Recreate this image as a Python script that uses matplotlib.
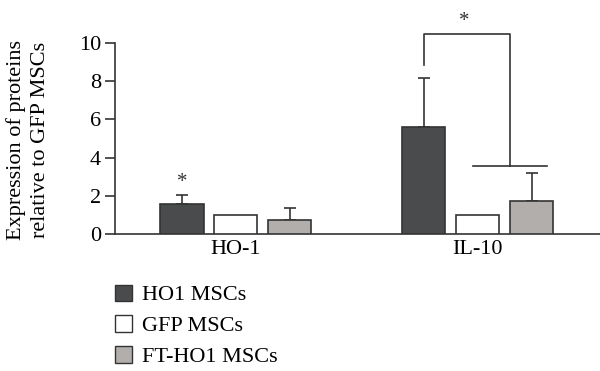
import matplotlib
matplotlib.use("Agg")
import matplotlib.pyplot as plt
from matplotlib.patches import Patch
import numpy as np

categories = ["HO-1", "IL-10"]
series = ["HO1 MSCs", "GFP MSCs", "FT-HO1 MSCs"]
means = {
    "HO1 MSCs": [1.55, 5.6],
    "GFP MSCs": [1.0, 1.0],
    "FT-HO1 MSCs": [0.75, 1.75],
}
errors = {
    "HO1 MSCs": [0.47, 2.58],
    "GFP MSCs": [0.0, 0.0],
    "FT-HO1 MSCs": [0.63, 1.45],
}
colors = ["#4a4b4d", "#ffffff", "#b1aeac"]
yticks = [0, 2, 4, 6, 8, 10]

plt.rcParams['font.family'] = ['Liberation Serif', 'DejaVu Serif']
edge = "#333333"
fs = 16

fig = plt.figure(figsize=(6, 3.71), dpi=100)
ax = fig.add_axes([0.1917, 0.3693, 0.8083, 0.5148])

x = np.arange(len(categories))
offset = 0.223
width = 0.178
handles = []
for i, s in enumerate(series):
    xs = x + (i - 1) * offset
    ax.bar(xs, means[s], width, color=colors[i], edgecolor=edge, linewidth=1.2, zorder=3)
    errs = np.array(errors[s])
    mask = errs > 0
    if mask.any():
        ax.errorbar(xs[mask], np.array(means[s])[mask],
                    yerr=[np.zeros(mask.sum()), errs[mask]],
                    fmt='none', ecolor=edge, elinewidth=1.2, capsize=4, capthick=1.2, zorder=2)
    handles.append(Patch(facecolor=colors[i], edgecolor=edge, linewidth=1.0, label=s))

ax.set_xlim(-0.5, 1.505)
ax.set_ylim(0, 10)
ax.set_yticks(yticks)
ax.set_xticks(x)
ax.set_xticklabels(categories, fontsize=fs)
ax.tick_params(axis='x', length=0, pad=4)
ax.tick_params(axis='y', length=7, width=1.2, color=edge, labelsize=fs, pad=3)
for sp in ["top", "right"]:
    ax.spines[sp].set_visible(False)
for sp in ["left", "bottom"]:
    ax.spines[sp].set_color(edge)
    ax.spines[sp].set_linewidth(1.2)

ax.set_ylabel("Expression of proteins\nrelative to GFP MSCs", fontsize=fs, linespacing=1.35,
              va='center', ha='center')
ax.yaxis.set_label_coords(-0.179, 0.49)

# significance markers
ax.text(x[0] - offset, means["HO1 MSCs"][0] + errors["HO1 MSCs"][0] + 0.2, "*",
        ha='center', va='bottom', fontsize=15, color=edge)
xl = x[1] - offset
xr = x[1] + 0.132
ax.plot([xl, xl, xr, xr], [8.85, 10.45, 10.45, 3.56], color=edge, lw=1.2, clip_on=False)
ax.plot([x[1] - 0.022, x[1] + 0.284], [3.56, 3.56], color=edge, lw=1.2, clip_on=False)
ax.text((xl + xr) / 2 - 0.01, 10.65, "*", ha='center', va='bottom', fontsize=15, color=edge, clip_on=False)

fig.legend(handles=handles, loc='upper left', bbox_to_anchor=(0.192, 0.233),
           frameon=False, fontsize=fs, handlelength=0.75, handleheight=0.75,
           handletextpad=0.45, labelspacing=0.45, borderaxespad=0, borderpad=0)

fig.savefig("out.png", dpi=100)
